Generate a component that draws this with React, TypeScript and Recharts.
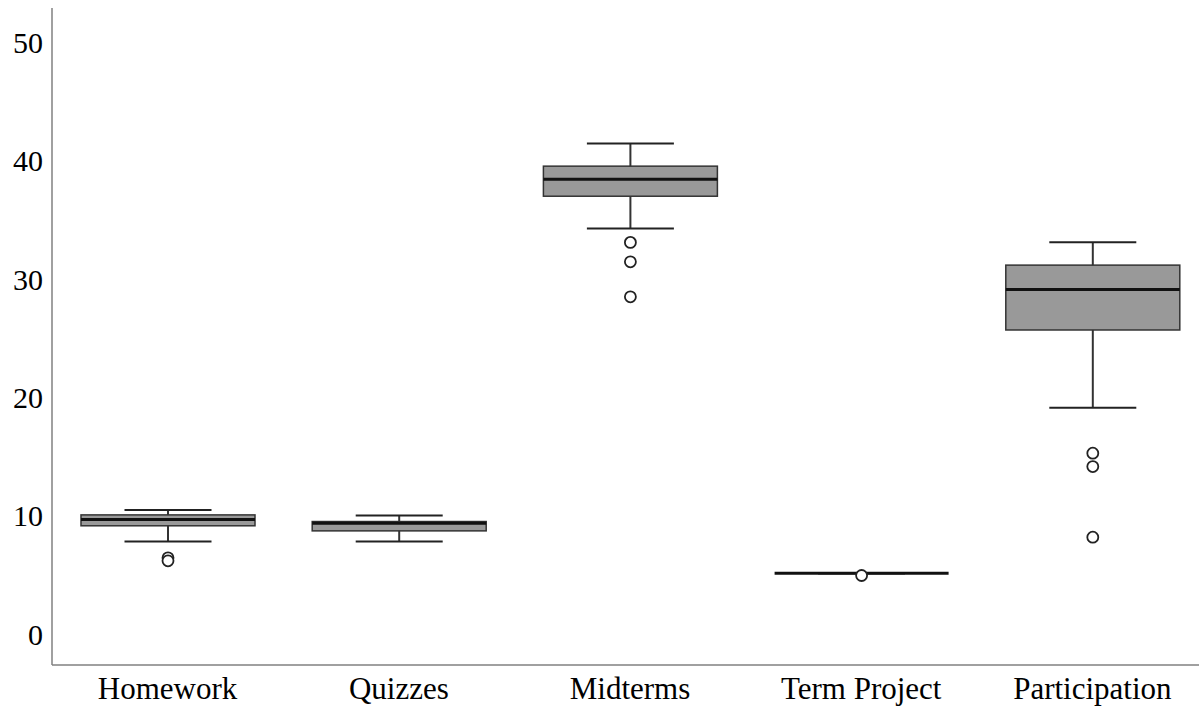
import { BarChart, Bar, XAxis, YAxis } from "recharts";

const categories = ["Homework", "Quizzes", "Midterms", "Term Project", "Participation"];
const whiskerLow = [7.83, 7.83, 34.28, 5.15, 19.14];
const q1 = [9.16, 8.73, 37.0, 5.15, 25.7];
const median = [9.7, 9.37, 38.44, 5.15, 29.13];
const q3 = [10.08, 9.52, 39.54, 5.15, 31.18];
const whiskerHigh = [10.5, 10.03, 41.45, 5.15, 33.12];
const outliers = [
  [6.45, 6.2],
  [],
  [33.1, 31.46, 28.5],
  [4.96],
  [15.29, 14.16, 8.2],
];
const yTicks = [0, 10, 20, 30, 40, 50];

const data = categories.map((name, i) => ({
  name,
  wlo: whiskerLow[i],
  q1: q1[i],
  med: median[i],
  q3: q3[i],
  whi: whiskerHigh[i],
  out: outliers[i],
}));

const FONT = "'Liberation Serif', 'Times New Roman', serif";
const lo = yTicks[0];
const hi = yTicks[yTicks.length - 1];

// the bar spans the tick range, so its pixels give us the y scale
function BoxShape(props: any) {
  const { x, y, width, height, payload } = props;
  const py = (v: number) => y + (height * (hi - v)) / (hi - lo);
  const cx = x + width / 2;
  const cap = width / 4;
  const top = py(payload.q3);
  const bot = py(payload.q1);
  return (
    <g>
      <line x1={cx} x2={cx} y1={py(payload.whi)} y2={py(payload.wlo)} stroke="#333" strokeWidth={2} />
      <line x1={cx - cap} x2={cx + cap} y1={py(payload.whi)} y2={py(payload.whi)} stroke="#222" strokeWidth={2} />
      <line x1={cx - cap} x2={cx + cap} y1={py(payload.wlo)} y2={py(payload.wlo)} stroke="#222" strokeWidth={2} />
      <rect
        x={x}
        y={top}
        width={width}
        height={Math.max(bot - top, 0)}
        fill="#999999"
        stroke="#333"
        strokeWidth={1.5}
      />
      <line x1={x} x2={x + width} y1={py(payload.med)} y2={py(payload.med)} stroke="#111" strokeWidth={3} />
      {payload.out.map((v: number, k: number) => (
        <circle key={k} cx={cx} cy={py(v)} r={5.5} fill="#fff" stroke="#222" strokeWidth={1.8} />
      ))}
    </g>
  );
}

export default function App() {
  return (
    <div style={{ position: "absolute", left: 0, top: 0, background: "#fff" }}>
      <BarChart
        width={1210}
        height={708}
        data={data}
        margin={{ top: 8, right: 2, left: 0, bottom: 0 }}
      >
        <XAxis
          dataKey="name"
          height={43}
          tickLine={false}
          tickSize={0}
          tickMargin={12}
          axisLine={{ stroke: "#808080", strokeWidth: 1.5 }}
          tick={{ fill: "#000", fontSize: 31, fontFamily: FONT }}
          interval={0}
        />
        <YAxis
          width={52}
          domain={[-2.6, 52.9]}
          ticks={yTicks}
          allowDataOverflow
          tickLine={false}
          tickSize={0}
          tickMargin={9}
          axisLine={{ stroke: "#808080", strokeWidth: 1.5 }}
          tick={{ fill: "#000", fontSize: 30, fontFamily: FONT }}
        />
        <Bar
          dataKey={() => [lo, hi]}
          barSize={174}
          shape={BoxShape}
          isAnimationActive={false}
        />
      </BarChart>
    </div>
  );
}
